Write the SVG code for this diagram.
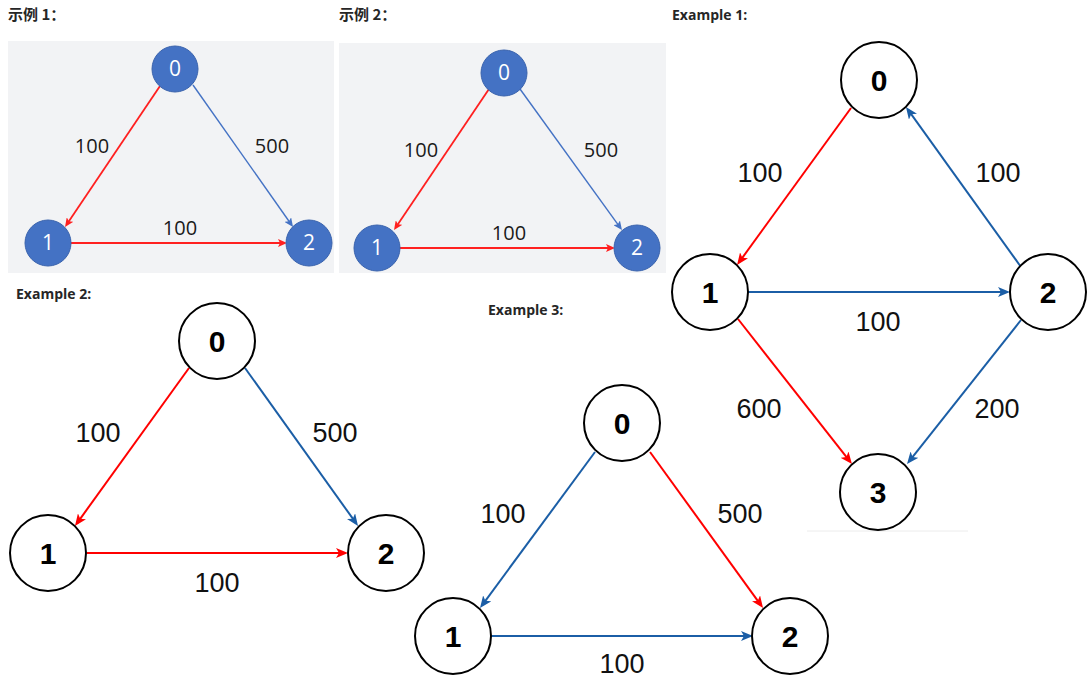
<svg xmlns="http://www.w3.org/2000/svg" width="1090" height="681" viewBox="0 0 1090 681">
<style>
.title{font-family:"Noto Sans CJK SC","Noto Sans",sans-serif;font-weight:bold;font-size:15px;fill:#262626}
.etitle{font-family:"Open Sans","Noto Sans",sans-serif;font-weight:bold;font-size:14px;fill:#262626}
.panel{fill:#f2f3f5}
.bn{fill:#4472c4;stroke:#3a63ad;stroke-width:1}
.bt{font-family:"Open Sans","Liberation Sans",sans-serif;font-size:21px;fill:#ffffff;text-anchor:middle}
.sl{font-family:"Open Sans","Liberation Sans",sans-serif;font-size:20px;fill:#1a1a1a;text-anchor:middle}
.wn{fill:#ffffff;stroke:#000;stroke-width:2}
.wt{font-family:"Liberation Sans",Arial,sans-serif;font-weight:bold;font-size:30px;fill:#000;text-anchor:middle}
.el{font-family:"Liberation Sans",Arial,sans-serif;font-size:27px;fill:#111;text-anchor:middle}
.r{stroke:#ff0000;stroke-width:2;fill:none}
.b{stroke:#1b5ea6;stroke-width:2;fill:none}
.sr{stroke:#ff2020;stroke-width:1.8;fill:none}
.sb{stroke:#4472c4;stroke-width:1.4;fill:none}
</style>
<defs>
<marker id="aR" viewBox="0 0 12 10" refX="8" refY="5" markerWidth="12" markerHeight="10" markerUnits="userSpaceOnUse" orient="auto"><path d="M0,0 L12,5 L0,10 L3,5 z" fill="#ff0000"/></marker>
<marker id="aB" viewBox="0 0 12 10" refX="8" refY="5" markerWidth="12" markerHeight="10" markerUnits="userSpaceOnUse" orient="auto"><path d="M0,0 L12,5 L0,10 L3,5 z" fill="#1b5ea6"/></marker>
<marker id="sR" viewBox="0 0 9 8" refX="6" refY="4" markerWidth="9" markerHeight="8" markerUnits="userSpaceOnUse" orient="auto"><path d="M0,0 L9,4 L0,8 L2,4 z" fill="#ff2020"/></marker>
<marker id="sB" viewBox="0 0 9 8" refX="6" refY="4" markerWidth="9" markerHeight="8" markerUnits="userSpaceOnUse" orient="auto"><path d="M0,0 L9,4 L0,8 L2,4 z" fill="#4472c4"/></marker>
</defs>
<rect width="1090" height="681" fill="#ffffff"/>

<g id="titles">
<text class="title" x="8" y="20">示例 1：</text>
<text class="title" x="339" y="20">示例 2：</text>
<text class="etitle" x="672" y="20">Example 1:</text>
<text class="etitle" x="16" y="299">Example 2:</text>
<text class="etitle" x="488" y="315">Example 3:</text>
</g>

<g id="panels">
<rect class="panel" x="8" y="41" width="326" height="232"/>
<rect class="panel" x="339" y="43" width="327" height="230"/>
<line x1="807" y1="531" x2="968" y2="531" stroke="#ececec" stroke-width="1"/>
</g>

<g id="connectors">
<line class="sr" x1="160" y1="86" x2="66.7" y2="224.5" marker-end="url(#sR)"/>
<line class="sb" x1="193" y1="85" x2="291.3" y2="224.5" marker-end="url(#sB)"/>
<line class="sr" x1="71" y1="243" x2="284" y2="243" marker-end="url(#sR)"/>
<line class="sr" x1="489" y1="89" x2="395.7" y2="227.5" marker-end="url(#sR)"/>
<line class="sb" x1="520" y1="89" x2="620.2" y2="227.6" marker-end="url(#sB)"/>
<line class="sr" x1="400" y1="248" x2="612" y2="248" marker-end="url(#sR)"/>
<line class="r" x1="851" y1="108" x2="739.4" y2="261.8" marker-end="url(#aR)"/>
<line class="b" x1="1021" y1="267" x2="908.3" y2="110.2" marker-end="url(#aB)"/>
<line class="b" x1="748" y1="292" x2="1006" y2="292" marker-end="url(#aB)"/>
<line class="r" x1="738" y1="319" x2="849.5" y2="460.9" marker-end="url(#aR)"/>
<line class="b" x1="1021" y1="320" x2="909.5" y2="460.9" marker-end="url(#aB)"/>
<line class="r" x1="189" y1="368" x2="77.3" y2="522.8" marker-end="url(#aR)"/>
<line class="b" x1="245" y1="368" x2="355.7" y2="522.7" marker-end="url(#aB)"/>
<line class="r" x1="87" y1="553" x2="344" y2="553" marker-end="url(#aR)"/>
<line class="b" x1="595" y1="452" x2="482.4" y2="604.8" marker-end="url(#aB)"/>
<line class="r" x1="650" y1="452" x2="760.7" y2="604.8" marker-end="url(#aR)"/>
<line class="b" x1="491" y1="636" x2="749" y2="636" marker-end="url(#aB)"/>
</g>

<g id="edge-labels">
<text class="sl" x="92" y="153">100</text>
<text class="sl" x="272" y="153">500</text>
<text class="sl" x="180" y="235">100</text>
<text class="sl" x="421" y="157">100</text>
<text class="sl" x="601" y="157">500</text>
<text class="sl" x="509" y="240">100</text>
<text class="el" x="760" y="182">100</text>
<text class="el" x="998" y="182">100</text>
<text class="el" x="878" y="331">100</text>
<text class="el" x="759" y="418">600</text>
<text class="el" x="997" y="418">200</text>
<text class="el" x="98" y="442">100</text>
<text class="el" x="335" y="442">500</text>
<text class="el" x="217" y="592">100</text>
<text class="el" x="503" y="523">100</text>
<text class="el" x="740" y="523">500</text>
<text class="el" x="622" y="673">100</text>
</g>

<g id="p1-n0"><circle class="bn" cx="175" cy="69" r="23"/><text class="bt" x="175" y="76">0</text></g>
<g id="p1-n1"><circle class="bn" cx="48" cy="243" r="23"/><text class="bt" x="48" y="250">1</text></g>
<g id="p1-n2"><circle class="bn" cx="309" cy="243" r="23"/><text class="bt" x="309" y="250">2</text></g>

<g id="p2-n0"><circle class="bn" cx="504" cy="73" r="23"/><text class="bt" x="504" y="80">0</text></g>
<g id="p2-n1"><circle class="bn" cx="377" cy="248" r="23"/><text class="bt" x="377" y="255">1</text></g>
<g id="p2-n2"><circle class="bn" cx="637" cy="248" r="23"/><text class="bt" x="637" y="255">2</text></g>

<g id="e1-n0"><circle class="wn" cx="879" cy="80" r="38"/><text class="wt" x="879" y="91">0</text></g>
<g id="e1-n1"><circle class="wn" cx="710" cy="292" r="38"/><text class="wt" x="710" y="303">1</text></g>
<g id="e1-n2"><circle class="wn" cx="1048" cy="292" r="38"/><text class="wt" x="1048" y="303">2</text></g>
<g id="e1-n3"><circle class="wn" cx="878" cy="492" r="38"/><text class="wt" x="878" y="503">3</text></g>

<g id="e2-n0"><circle class="wn" cx="217" cy="341" r="38"/><text class="wt" x="217" y="352">0</text></g>
<g id="e2-n1"><circle class="wn" cx="48" cy="553" r="38"/><text class="wt" x="48" y="564">1</text></g>
<g id="e2-n2"><circle class="wn" cx="386" cy="553" r="38"/><text class="wt" x="386" y="564">2</text></g>

<g id="e3-n0"><circle class="wn" cx="622" cy="423" r="38"/><text class="wt" x="622" y="434">0</text></g>
<g id="e3-n1"><circle class="wn" cx="453" cy="636" r="38"/><text class="wt" x="453" y="647">1</text></g>
<g id="e3-n2"><circle class="wn" cx="790" cy="636" r="38"/><text class="wt" x="790" y="647">2</text></g>
</svg>
